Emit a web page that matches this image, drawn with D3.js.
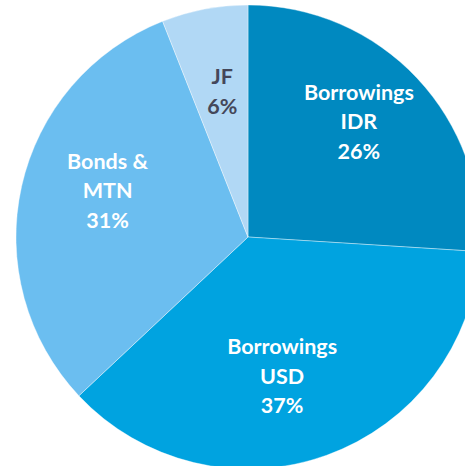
<!DOCTYPE html>
<html>
<head>
<meta charset="utf-8">
<script src="https://cdn.jsdelivr.net/npm/d3@7"></script>
<style>
  body { margin: 0; background: #fff; }
</style>
</head>
<body>
<div id="pie-container"></div>
<script>
// chart data
const categories = ['Borrowings\nIDR', 'Borrowings\nUSD', 'Bonds &\nMTN', 'JF'];
const shares = [26, 37, 31, 6];
const colors = ['#0089c0', '#00a3e0', '#6bbef0', '#b1d8f5'];
const label_colors = ['#ffffff', '#ffffff', '#ffffff', '#44475a'];

const width = 465;
const height = 466;
const cx = 248;
const cy = 237;
const radius = 232;

// small label nudges (excel doesn't put them exactly on the centroid)
const label_dx = [3, -16, 4, 2];
const label_dy = [-14, 0, -14, 0];

const svg = d3.select('#pie-container')
    .append('svg')
    .attr('width', width)
    .attr('height', height);

const g = svg.append('g').attr('transform', `translate(${cx}, ${cy})`);

const pie = d3.pie().sort(null).value(d => d);
const arcs = pie(shares);

const arc = d3.arc().innerRadius(0).outerRadius(radius);
const label_arc = d3.arc().innerRadius(148).outerRadius(148);

g.selectAll('.slice')
    .data(arcs)
    .enter()
    .append('path')
    .attr('class', 'slice')
    .attr('d', arc)
    .attr('fill', (d, i) => colors[i])
    .attr('stroke', '#ffffff')
    .attr('stroke-opacity', 0.5)
    .attr('stroke-width', 0.75);

// labels: category lines then percentage
const labels = g.selectAll('.label')
    .data(arcs)
    .enter()
    .append('text')
    .attr('class', 'label')
    .attr('text-anchor', 'middle')
    .attr('font-family', 'Lato, sans-serif')
    .attr('font-weight', 'bold')
    .attr('font-size', 21.5)
    .attr('fill', (d, i) => label_colors[i])
    .attr('transform', (d, i) => {
        const c = label_arc.centroid(d);
        return `translate(${c[0] + label_dx[i]}, ${c[1] + label_dy[i]})`;
    });

labels.each(function(d, i) {
    const lines = categories[i].split('\n').concat([shares[i] + '%']);
    const n = lines.length;
    const lh = 29.5;
    d3.select(this).selectAll('tspan')
        .data(lines)
        .enter()
        .append('tspan')
        .attr('x', 0)
        .attr('y', (l, j) => (j - (n - 1) / 2) * lh + 7.5)
        .text(l => l);
});
</script>
</body>
</html>
